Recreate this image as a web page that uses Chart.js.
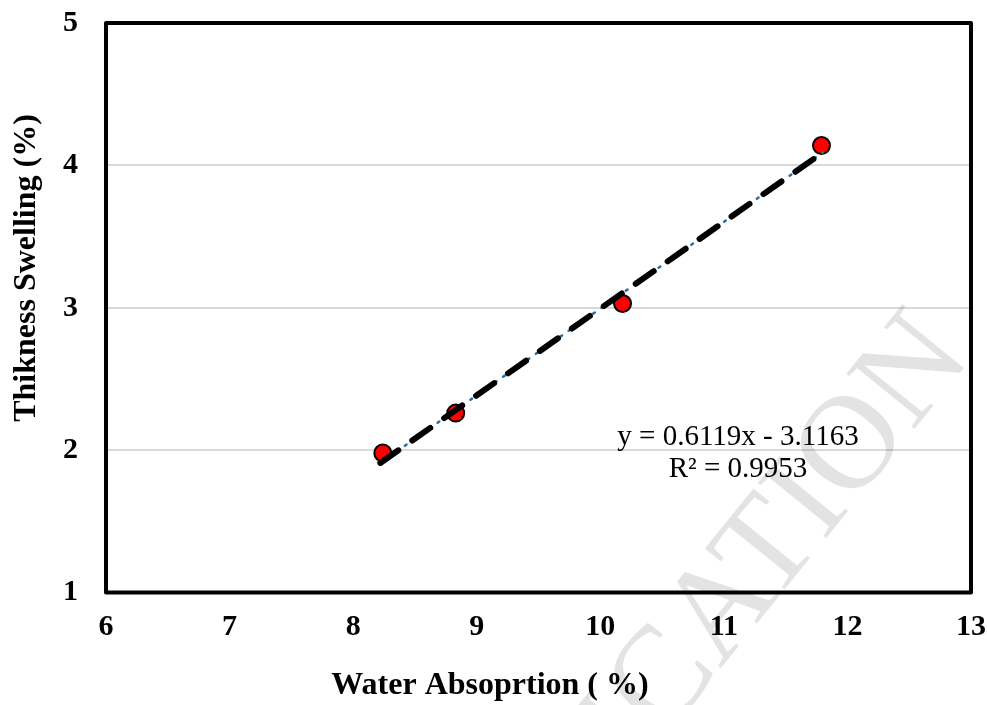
<!DOCTYPE html>
<html>
<head>
<meta charset="utf-8">
<script src="https://cdn.jsdelivr.net/npm/chart.js@4.4.1/dist/chart.umd.min.js"></script>
<style>
  html, body { margin: 0; padding: 0; background: #fff; }
  #wrap { width: 987px; height: 705px; }
</style>
</head>
<body>
<div id="wrap"><canvas id="swellChart" width="987" height="705"></canvas></div>
<script>
// measured points
const waterAbsorption = [8.24, 8.83, 10.18, 11.79];
const thicknessSwelling = [1.98, 2.26, 3.03, 4.14];

// linear trendline ends
const trendX = [8.22, 11.80];
const trendY = [1.91, 4.09];

const xTicks = [6, 7, 8, 9, 10, 11, 12, 13];
const yTicks = [1, 2, 3, 4, 5];

const xTitle = 'Water Absoprtion ( %)';
const yTitle = 'Thikness Swelling (%)';
const eqLines = ['y = 0.6119x - 3.1163', 'R\u00B2 = 0.9953'];
const watermark = 'PUBLICATION';

(function () {
  const el = document.getElementById('swellChart');
  if (!el) return;

  const TOKENS = {
    serif: '"Liberation Serif", "Times New Roman", serif',
    red: '#FF0000',
    black: '#000000',
    blue: '#2E6E9E',
    grid: '#D9D9D9',
    mark: 'rgba(0,0,0,0.11)'
  };

  const toXY = (xs, ys) => xs.map((x, i) => ({ x, y: ys[i] }));

  // frame, axis titles, equation, watermark
  const Decor = {
    id: 'Decor',
    afterDraw(chart) {
      const { ctx, chartArea: a } = chart;

      // plot frame
      ctx.save();
      ctx.strokeStyle = TOKENS.black;
      ctx.lineWidth = 4;
      ctx.lineJoin = 'round';
      ctx.strokeRect(a.left, a.top, a.right - a.left, a.bottom - a.top);
      ctx.restore();

      // axis titles
      ctx.save();
      ctx.fillStyle = TOKENS.black;
      ctx.font = 'bold 32px ' + TOKENS.serif;
      ctx.textAlign = 'center';
      ctx.textBaseline = 'middle';
      ctx.fillText(xTitle, 490, 686);
      ctx.translate(27, 268);
      ctx.rotate(-Math.PI / 2);
      ctx.fillText(yTitle, 0, 0);
      ctx.restore();

      // regression label
      ctx.save();
      ctx.fillStyle = TOKENS.black;
      ctx.font = '29px ' + TOKENS.serif;
      ctx.textAlign = 'center';
      ctx.textBaseline = 'alphabetic';
      ctx.fillText(eqLines[0], 738, 445);
      ctx.fillText(eqLines[1], 738, 477);
      ctx.restore();

      // watermark, mostly off canvas
      ctx.save();
      ctx.font = '134px ' + TOKENS.serif;
      const tail = 'ICATION';
      const w = ctx.measureText(tail).width;
      ctx.translate(777, 543);
      ctx.rotate(-51 * Math.PI / 180);
      ctx.fillStyle = TOKENS.mark;
      ctx.textAlign = 'right';
      ctx.textBaseline = 'middle';
      ctx.fillText(watermark, w / 2, 0);
      ctx.restore();
    }
  };

  new Chart(el, {
    type: 'scatter',
    data: {
      datasets: [
        {
          label: 'Linear (trend)',
          data: toXY(trendX, trendY),
          showLine: true,
          borderColor: TOKENS.black,
          borderWidth: 6,
          borderDash: [22, 17],
          borderCapStyle: 'round',
          pointRadius: 0,
          fill: false
        },
        {
          label: 'series line',
          data: toXY(trendX, trendY),
          showLine: true,
          borderColor: TOKENS.blue,
          borderWidth: 2.5,
          borderDash: [2, 8],
          borderCapStyle: 'round',
          pointRadius: 0,
          fill: false
        },
        {
          label: 'TS vs WA',
          data: toXY(waterAbsorption, thicknessSwelling),
          backgroundColor: TOKENS.red,
          borderColor: TOKENS.black,
          borderWidth: 2,
          pointRadius: 8.5,
          showLine: false
        }
      ]
    },
    options: {
      responsive: false,
      animation: false,
      devicePixelRatio: 1,
      layout: { padding: { top: 23, right: 16, bottom: 0, left: 0 } },
      plugins: {
        legend: { display: false },
        tooltip: { enabled: false }
      },
      scales: {
        x: {
          type: 'linear',
          min: xTicks[0],
          max: xTicks[xTicks.length - 1],
          afterBuildTicks: (s) => { s.ticks = xTicks.map(v => ({ value: v })); },
          // fixed band height, no extra side padding for end labels
          afterFit: (s) => { s.height = 112.5; s.paddingLeft = 0; s.paddingRight = 0; },
          grid: { display: false, drawTicks: false },
          border: { display: false },
          ticks: {
            color: TOKENS.black,
            padding: 17,
            maxRotation: 0,
            font: { family: TOKENS.serif, size: 30, weight: 'bold' }
          }
        },
        y: {
          type: 'linear',
          min: yTicks[0],
          max: yTicks[yTicks.length - 1],
          afterBuildTicks: (s) => { s.ticks = yTicks.map(v => ({ value: v })); },
          afterFit: (s) => { s.width = 106; s.paddingTop = 0; s.paddingBottom = 0; },
          grid: { color: TOKENS.grid, lineWidth: 2, drawTicks: false },
          border: { display: false },
          ticks: {
            color: TOKENS.black,
            padding: 28,
            font: { family: TOKENS.serif, size: 30, weight: 'bold' }
          }
        }
      }
    },
    plugins: [Decor]
  });
})();
</script>
</body>
</html>
